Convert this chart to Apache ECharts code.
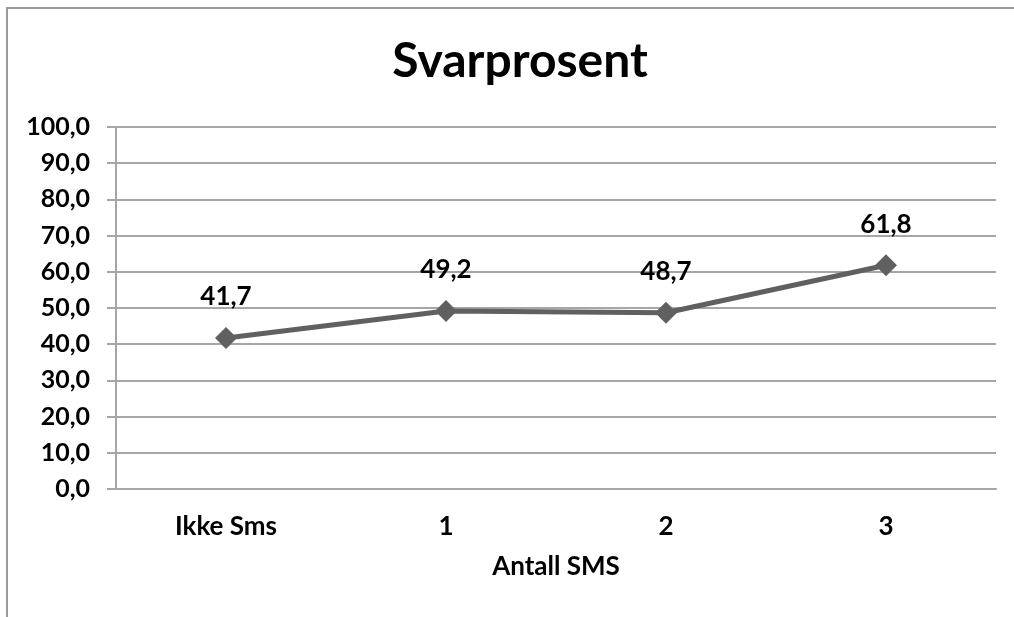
<!DOCTYPE html>
<html>
<head>
<meta charset="utf-8">
<script src="https://cdn.jsdelivr.net/npm/echarts@6/dist/echarts.min.js"></script>
<style>
  html, body { margin: 0; padding: 0; background: #fff; overflow: hidden; }
  #chart { width: 1014px; height: 617px; }
  #frame { position: absolute; left: 6px; top: 7px; width: 1100px; height: 700px;
           border: 2px solid #9a9a9a; pointer-events: none; }
</style>
</head>
<body>
<div id="chart"></div>
<div id="frame"></div>
<script>
// Svarprosent etter antall SMS
const categories = ["Ikke Sms", "1", "2", "3"]
const svarprosent = [41.7, 49.2, 48.7, 61.8]
const yTicks = { min: 0, max: 100, interval: 10 }

const fmt = (v) => Number(v).toFixed(1).replace(".", ",")
const font = "Lato, 'Open Sans', sans-serif"

const myChart = echarts.init(document.getElementById("chart"))

const option = {
  backgroundColor: "#fff",
  animation: false,
  title: {
    text: "Svarprosent",
    left: 515,
    top: 33,
    textAlign: "center",
    textStyle: { fontFamily: font, fontWeight: "bold", fontSize: 48, color: "#000" },
  },
  grid: { left: 116, right: 18, top: 127, bottom: 128 },
  xAxis: {
    type: "category",
    data: categories,
    boundaryGap: true,
    name: "Antall SMS",
    nameLocation: "middle",
    nameGap: 65,
    nameTextStyle: { fontFamily: font, fontWeight: "bold", fontSize: 26, color: "#000" },
    axisLine: { lineStyle: { color: "#a6a6a6", width: 2 } },
    axisTick: { length: 10, lineStyle: { color: "#a6a6a6", width: 2 } },
    axisLabel: { fontFamily: font, fontWeight: "bold", fontSize: 26, color: "#000", margin: 25 },
  },
  yAxis: {
    type: "value",
    min: yTicks.min,
    max: yTicks.max,
    interval: yTicks.interval,
    axisLine: { show: true, lineStyle: { color: "#a6a6a6", width: 2 } },
    axisTick: { show: true, length: 9, lineStyle: { color: "#a6a6a6", width: 2 } },
    axisLabel: {
      fontFamily: font, fontWeight: "bold", fontSize: 25, color: "#000", margin: 26,
      formatter: fmt,
    },
    splitLine: { lineStyle: { color: "#a6a6a6", width: 2 } },
  },
  series: [
    {
      name: "Svarprosent",
      type: "line",
      data: svarprosent,
      symbol: "diamond",
      symbolSize: [22, 22],
      itemStyle: { color: "#606060" },
      lineStyle: { color: "#606060", width: 5 },
      label: {
        show: true,
        position: "top",
        distance: 17,
        fontFamily: font,
        fontWeight: "bold",
        fontSize: 26,
        color: "#000",
        formatter: (p) => fmt(p.value),
      },
    },
  ],
}

myChart.setOption(option)
</script>
</body>
</html>
